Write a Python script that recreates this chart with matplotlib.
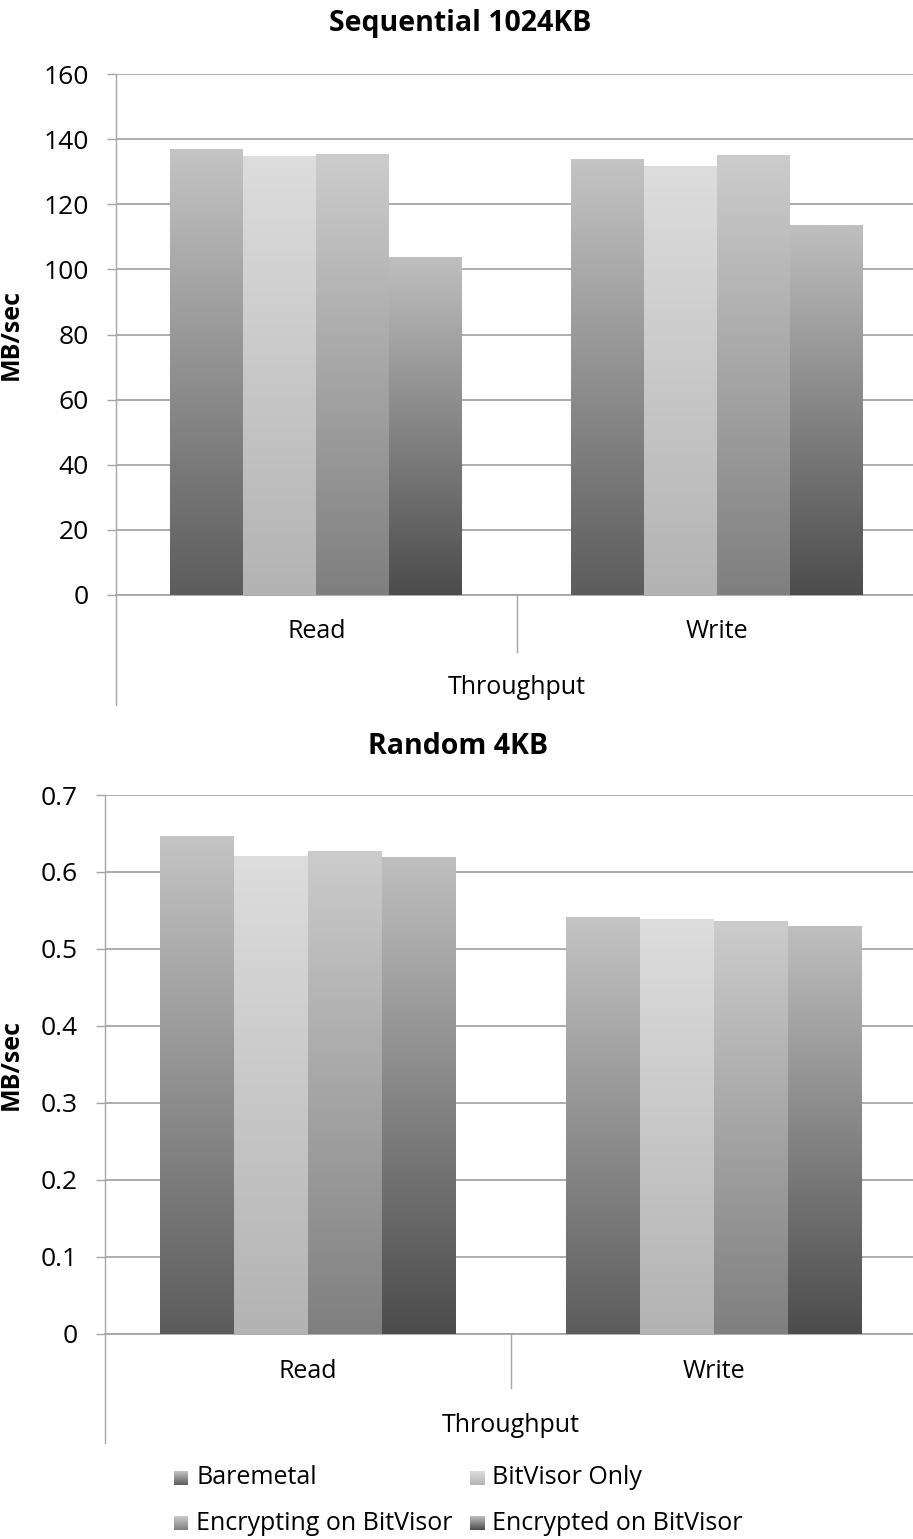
import numpy as np
import matplotlib
matplotlib.use("Agg")
import matplotlib.pyplot as plt
from matplotlib.colors import LinearSegmentedColormap
from matplotlib.lines import Line2D

plt.rcParams['font.family'] = ['Open Sans', 'DejaVu Sans']

categories = ["Read", "Write"]
series_names = ["Baremetal", "BitVisor Only", "Encrypting on BitVisor", "Encrypted on BitVisor"]
seq_values = [
    [137.0, 134.0],
    [134.8, 131.6],
    [135.3, 135.1],
    [103.9, 113.6],
]
rand_values = [
    [0.647, 0.542],
    [0.621, 0.539],
    [0.627, 0.536],
    [0.619, 0.530],
]
seq_ticks = [0, 20, 40, 60, 80, 100, 120, 140, 160]
rand_ticks = [0, 0.1, 0.2, 0.3, 0.4, 0.5, 0.6, 0.7]
rand_tick_labels = ["0", "0.1", "0.2", "0.3", "0.4", "0.5", "0.6", "0.7"]

# (bottom colour, top colour) per series
grad_colors = [
    ("#5c5c5c", "#c4c4c4"),
    ("#b3b3b3", "#dddddd"),
    ("#7f7f7f", "#cccccc"),
    ("#4c4c4c", "#bfbfbf"),
]
cmaps = [LinearSegmentedColormap.from_list(f"g{i}", list(c)) for i, c in enumerate(grad_colors)]
grad = np.linspace(0, 1, 256).reshape(-1, 1)

W, H = 913, 1539
fig = plt.figure(figsize=(W / 100, H / 100), dpi=100)

GRID = "#a6a6a6"
FS = 18
TICK_FS = 19
TITLE_FS = 20.5


def make_chart(rect, values, ticks, ticklabels, spine_ext, div_ext):
    ax = fig.add_axes(rect)
    n = len(values)
    bw = 0.182
    x = np.arange(len(categories))
    for i, vals in enumerate(values):
        offs = (i - (n - 1) / 2) * bw
        bars = ax.bar(x + offs, vals, width=bw, color="none", edgecolor="none", zorder=3)
        for b in bars:
            x0, y0 = b.get_x(), b.get_y()
            w, h = b.get_width(), b.get_height()
            im = ax.imshow(grad, cmap=cmaps[i], origin="lower", aspect="auto",
                           extent=[x0, x0 + w, y0, y0 + h], zorder=3, interpolation="bilinear")
            im.set_clip_path(b)
    ax.set_xlim(-0.5, 1.5)
    ax.set_ylim(ticks[0], ticks[-1])
    ax.set_yticks(ticks)
    ax.set_yticklabels(ticklabels, fontsize=TICK_FS)
    ax.yaxis.grid(True, color=GRID, linewidth=1.3, zorder=0)
    ax.set_axisbelow(True)
    ax.set_xticks([])
    for s in ["top", "right"]:
        ax.spines[s].set_visible(False)
    ax.spines["bottom"].set_color(GRID)
    ax.spines["bottom"].set_linewidth(1.3)
    ax.spines["left"].set_color(GRID)
    ax.spines["left"].set_linewidth(1.0)
    ax.tick_params(axis="y", length=6.5, color=GRID, width=1.0, pad=13, labelcolor="black")
    ax.add_line(Line2D([0, 0], [0, -spine_ext], transform=ax.transAxes, color=GRID,
                       linewidth=1.0, clip_on=False))
    ax.add_line(Line2D([0.5, 0.5], [0, -div_ext], transform=ax.transAxes, color=GRID,
                       linewidth=1.0, clip_on=False))
    for xi, c in zip(x, categories):
        ax.text(xi, -0.071, c, transform=ax.get_xaxis_transform(), ha="center", va="center",
                fontsize=FS)
    ax.set_ylabel("MB/sec", fontsize=FS, fontweight="bold")
    return ax


# top chart: plot area y 74..595, x 116..917
top_rect = [116 / W, 1 - 595 / H, (917 - 116) / W, (595 - 74) / H]
ax1 = make_chart(top_rect, seq_values, seq_ticks, [str(t) for t in seq_ticks],
                 (705 - 595) / (595 - 74), (652 - 595) / (595 - 74))
ax1.text(0.5, -(688 - 595) / (595 - 74), "Throughput", transform=ax1.transAxes,
         ha="center", va="center", fontsize=FS)
fig.text(460 / W, 1 - 24 / H, "Sequential 1024KB", ha="center", va="center",
         fontsize=TITLE_FS, fontweight="bold")
ax1.yaxis.set_label_coords(-(116 - 24) / (917 - 116), 0.5)

# bottom chart: plot area y 795..1333.6, x 105..917
bot_rect = [105 / W, 1 - 1333.6 / H, (917 - 105) / W, (1333.6 - 795) / H]
ax2 = make_chart(bot_rect, rand_values, rand_ticks, rand_tick_labels,
                 (1443 - 1333.6) / (1333.6 - 795), (1388 - 1333.6) / (1333.6 - 795))
ax2.text(0.5, -(1426 - 1333.6) / (1333.6 - 795), "Throughput", transform=ax2.transAxes,
         ha="center", va="center", fontsize=FS)
fig.text(458 / W, 1 - 746 / H, "Random 4KB", ha="center", va="center",
         fontsize=TITLE_FS, fontweight="bold")
ax2.yaxis.set_label_coords(-(105 - 24) / (917 - 105), 0.5)

# legend: two aligned columns
leg_pos = [(174, 1478), (470, 1478), (174, 1523), (470, 1523)]
sq = 14
for i, (name, (px, py)) in enumerate(zip(series_names, leg_pos)):
    lax = fig.add_axes([px / W, 1 - (py + sq / 2) / H, sq / W, sq / H])
    lax.imshow(grad, cmap=cmaps[i], origin="lower", aspect="auto", extent=[0, 1, 0, 1])
    lax.set_axis_off()
    fig.text((px + sq + 8) / W, 1 - py / H, name, ha="left", va="center", fontsize=FS)

fig.savefig("out.png", dpi=100, facecolor="white")
